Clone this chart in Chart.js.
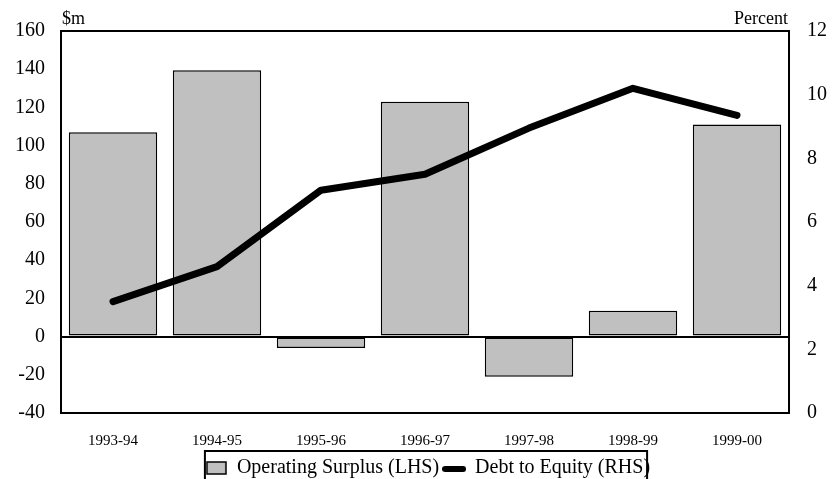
<!DOCTYPE html>
<html>
<head>
<meta charset="utf-8">
<script src="https://cdn.jsdelivr.net/npm/chart.js@4.4.0/dist/chart.umd.min.js"></script>
<style>
    html, body { margin: 0; padding: 0; background: #fff; }
    #wrap { width: 833px; height: 479px; }
</style>
</head>
<body>
<div id="wrap"><canvas id="chart"></canvas></div>
<script>
const years = ['1993-94', '1994-95', '1995-96', '1996-97', '1997-98', '1998-99', '1999-00'];
const operatingSurplus = [107, 139.5, -6, 123, -21, 13.5, 111];
const debtToEquity = [3.5, 4.6, 7.0, 7.5, 8.95, 10.2, 9.35];
const leftTicks = [-40, 160, 20];
const rightTicks = [0, 12, 2];

const SERIF = "'Liberation Serif', 'Times New Roman', serif";

/* legend icons */
function barIcon() {
    const c = document.createElement('canvas');
    c.width = 22; c.height = 14;
    const g = c.getContext('2d');
    g.fillStyle = '#c0c0c0';
    g.fillRect(2, 1, 19, 12);
    g.strokeStyle = '#000';
    g.lineWidth = 1.5;
    g.strokeRect(2, 1, 19, 12);
    return c;
}

function lineIcon() {
    const c = document.createElement('canvas');
    c.width = 24; c.height = 10;
    const g = c.getContext('2d');
    g.strokeStyle = '#000';
    g.lineWidth = 6;
    g.lineCap = 'round';
    g.beginPath();
    g.moveTo(3, 6);
    g.lineTo(21, 6);
    g.stroke();
    return c;
}

const frame = {
    id: 'frame',
    afterLayout(chart) {
        // push the legend down and a little right, like the original
        const lg = chart.legend;
        lg.top += 9; lg.bottom += 9;
        lg.left += 11; lg.right += 11;
    },
    afterDraw(chart) {
        const { ctx, chartArea: a } = chart;
        ctx.save();
        ctx.strokeStyle = '#000';
        ctx.lineWidth = 2;
        ctx.strokeRect(a.left, a.top, a.right - a.left, a.bottom - a.top);

        ctx.fillStyle = '#000';
        ctx.font = '18px ' + SERIF;
        ctx.textBaseline = 'bottom';
        ctx.textAlign = 'left';
        ctx.fillText('$m', a.left + 1, a.top - 3);
        ctx.textAlign = 'right';
        ctx.fillText('Percent', a.right - 1, a.top - 3);

        // box round legend
        const lg = chart.legend;
        if (lg.lineWidths && lg.lineWidths.length) {
            const w = lg.lineWidths[0];
            const start = (lg.left + lg.right - w) / 2;
            ctx.lineWidth = 2;
            ctx.strokeRect(start + 2, 451, w - 7, 40);
        }
        ctx.restore();
    }
};

new Chart(document.getElementById('chart'), {
    data: {
        labels: years,
        datasets: [
            {
                type: 'bar',
                label: 'Operating Surplus (LHS)',
                data: operatingSurplus,
                yAxisID: 'y',
                backgroundColor: '#c0c0c0',
                borderColor: '#000',
                borderWidth: 1.5,
                borderSkipped: false,
                categoryPercentage: 0.85,
                barPercentage: 1,
                order: 1
            },
            {
                type: 'line',
                label: 'Debt to Equity (RHS)',
                data: debtToEquity,
                yAxisID: 'y1',
                borderColor: '#000',
                backgroundColor: '#000',
                borderWidth: 7,
                borderCapStyle: 'round',
                borderJoinStyle: 'round',
                pointRadius: 0,
                tension: 0,
                order: 0
            }
        ]
    },
    options: {
        responsive: true,
        maintainAspectRatio: false,
        animation: false,
        layout: { padding: { top: 31, bottom: 0, left: 0, right: 0 } },
        plugins: {
            tooltip: { enabled: false },
            legend: {
                position: 'bottom',
                labels: {
                    usePointStyle: true,
                    pointStyleWidth: 22,
                    boxHeight: 14,
                    padding: 4,
                    color: '#000',
                    font: { family: SERIF, size: 20 },
                    generateLabels: () => [
                        { text: 'Operating Surplus (LHS)', pointStyle: barIcon(), datasetIndex: 0, fontColor: '#000' },
                        { text: 'Debt to Equity (RHS)', pointStyle: lineIcon(), datasetIndex: 1, fontColor: '#000' }
                    ]
                }
            }
        },
        scales: {
            x: {
                offset: true,
                grid: { display: false },
                border: { display: false },
                ticks: { color: '#000', font: { family: SERIF, size: 15 }, padding: 11, maxRotation: 0 },
                afterFit: s => { s.height = 32; }
            },
            y: {
                position: 'left',
                min: leftTicks[0],
                max: leftTicks[1],
                border: { display: false },
                grid: {
                    drawTicks: false,
                    lineWidth: 2,
                    color: c => (c.tick && c.tick.value === 0 ? '#000' : 'rgba(0,0,0,0)')
                },
                ticks: { stepSize: leftTicks[2], color: '#000', font: { family: SERIF, size: 20 }, padding: 16 },
                afterFit: s => { s.width = 61; }
            },
            y1: {
                position: 'right',
                min: rightTicks[0],
                max: rightTicks[1],
                border: { display: false },
                grid: { display: false, drawTicks: false },
                ticks: { stepSize: rightTicks[2], color: '#000', font: { family: SERIF, size: 20 }, padding: 18 },
                afterFit: s => { s.width = 44; }
            }
        }
    },
    plugins: [frame]
});
</script>
</body>
</html>
